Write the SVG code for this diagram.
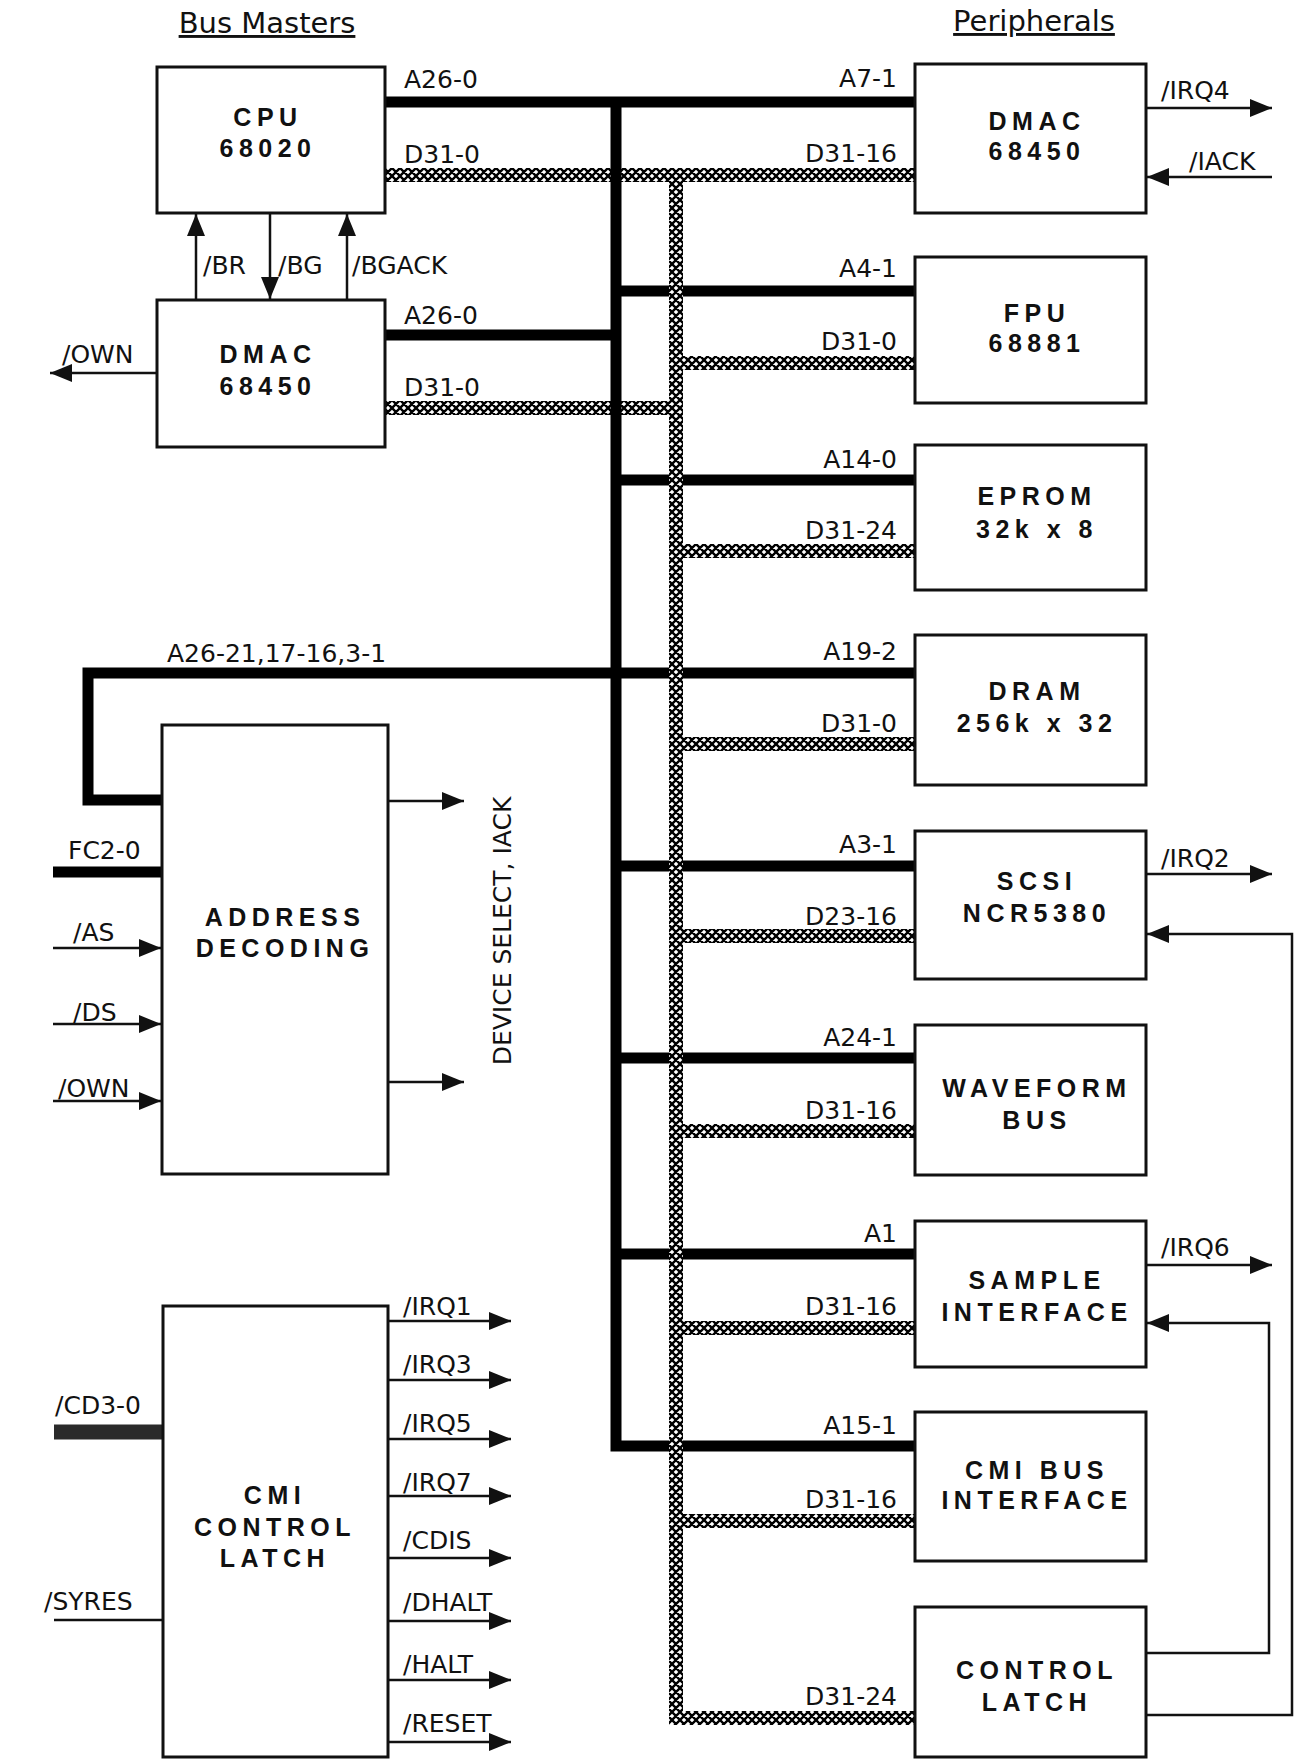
<svg xmlns="http://www.w3.org/2000/svg" width="1296" height="1760" viewBox="0 0 1296 1760">
<style>
.box{fill:#fff;stroke:#111;stroke-width:3}
.bt{font-family:"Liberation Sans",Arial,sans-serif;font-weight:bold;font-size:25px;letter-spacing:5.5px;text-anchor:middle;fill:#111}
.lb{font-family:"DejaVu Sans","Liberation Sans",sans-serif;font-size:25px;fill:#111}
.r{text-anchor:end}
.ttl{font-family:"DejaVu Sans","Liberation Sans",sans-serif;font-size:29px;fill:#111;text-anchor:middle;text-decoration:underline}
.abus{fill:none;stroke:#000;stroke-width:11;stroke-linejoin:miter}
.dbus{fill:none;stroke:url(#hatch);stroke-width:14;stroke-linejoin:miter}
.sig{fill:none;stroke:#111;stroke-width:2.5}
.arr{marker-end:url(#ah)}
</style>
<defs>
<pattern id="hatch" patternUnits="userSpaceOnUse" width="8" height="8">
<rect width="8" height="8" fill="#fff"/>
<path d="M0,0 L8,8 M8,0 L0,8 M-1,7 L1,9 M7,-1 L9,1 M-1,1 L1,-1 M7,9 L9,7" stroke="#000" stroke-width="2.4"/>
</pattern>
<marker id="ah" viewBox="0 0 22 18" refX="22" refY="9" markerWidth="22" markerHeight="18" orient="auto" markerUnits="userSpaceOnUse">
<path d="M0,0 L22,9 L0,18 z" fill="#111"/>
</marker>
</defs>
<rect width="1296" height="1760" fill="#fff"/>

<text class="ttl" x="267" y="33">Bus Masters</text>
<text class="ttl" x="1034" y="31">Peripherals</text>

<g id="connectors">
<path class="dbus" d="M385,175 H676"/>
<path class="dbus" d="M385,408 H676"/>
<path class="abus" d="M385,102 H915"/>
<path class="abus" d="M616,97 V1446 H915"/>
<path class="abus" d="M385,335 H616"/>
<path class="abus" d="M616,291 H915"/>
<path class="abus" d="M616,480 H915"/>
<path class="abus" d="M915,673 H88 V800 H163"/>
<path class="abus" d="M616,866 H915"/>
<path class="abus" d="M616,1058 H915"/>
<path class="abus" d="M616,1254 H915"/>
<path class="abus" d="M53,872 H163"/>
<path d="M54,1432 H163" stroke="#2a2a2a" stroke-width="15" fill="none"/>
<path class="dbus" d="M676,175 H915"/>
<path class="dbus" d="M676,175 V1718 H915"/>
<path class="dbus" d="M676,363 H915"/>
<path class="dbus" d="M676,551 H915"/>
<path class="dbus" d="M676,744 H915"/>
<path class="dbus" d="M676,936 H915"/>
<path class="dbus" d="M676,1131 H915"/>
<path class="dbus" d="M676,1328 H915"/>
<path class="dbus" d="M676,1521 H915"/>
<path class="sig arr" d="M196,300 V214"/>
<path class="sig arr" d="M270,214 V299"/>
<path class="sig arr" d="M347,300 V214"/>
<path class="sig arr" d="M157,373 H50"/>
<path class="sig arr" d="M1146,108 H1272"/>
<path class="sig arr" d="M1272,177 H1147"/>
<path class="sig arr" d="M1146,874 H1272"/>
<path class="sig arr" d="M1146,1715 H1292 V934 H1147"/>
<path class="sig arr" d="M1146,1653 H1269 V1323 H1147"/>
<path class="sig arr" d="M1146,1265 H1272"/>
<path class="sig arr" d="M388,801 H464"/>
<path class="sig arr" d="M388,1082 H464"/>
<path class="sig arr" d="M53,948 H161"/>
<path class="sig arr" d="M53,1024 H161"/>
<path class="sig arr" d="M53,1101 H161"/>
<path class="sig" d="M54,1620 H163"/>
<path class="sig arr" d="M388,1321 H511"/>
<path class="sig arr" d="M388,1380 H511"/>
<path class="sig arr" d="M388,1439 H511"/>
<path class="sig arr" d="M388,1496 H511"/>
<path class="sig arr" d="M388,1558 H511"/>
<path class="sig arr" d="M388,1621 H511"/>
<path class="sig arr" d="M388,1680 H511"/>
<path class="sig arr" d="M388,1742 H511"/>
</g>

<g id="labels">
<text class="lb" x="404" y="88">A26-0</text>
<text class="lb" x="404" y="163">D31-0</text>
<text class="lb" x="203" y="274">/BR</text>
<text class="lb" x="278" y="274">/BG</text>
<text class="lb" x="352" y="274">/BGACK</text>
<text class="lb" x="404" y="324">A26-0</text>
<text class="lb" x="404" y="396">D31-0</text>
<text class="lb" x="62" y="363">/OWN</text>
<text class="lb r" x="897" y="87">A7-1</text>
<text class="lb r" x="897" y="162">D31-16</text>
<text class="lb" x="1161" y="99">/IRQ4</text>
<text class="lb" x="1189" y="170">/IACK</text>
<text class="lb r" x="897" y="277">A4-1</text>
<text class="lb r" x="897" y="350">D31-0</text>
<text class="lb r" x="897" y="468">A14-0</text>
<text class="lb r" x="897" y="539">D31-24</text>
<text class="lb" x="167" y="662">A26-21,17-16,3-1</text>
<text class="lb r" x="897" y="660">A19-2</text>
<text class="lb r" x="897" y="732">D31-0</text>
<text class="lb r" x="897" y="853">A3-1</text>
<text class="lb r" x="897" y="925">D23-16</text>
<text class="lb" x="1161" y="867">/IRQ2</text>
<text class="lb r" x="897" y="1046">A24-1</text>
<text class="lb r" x="897" y="1119">D31-16</text>
<text class="lb r" x="897" y="1242">A1</text>
<text class="lb r" x="897" y="1315">D31-16</text>
<text class="lb" x="1161" y="1256">/IRQ6</text>
<text class="lb r" x="897" y="1434">A15-1</text>
<text class="lb r" x="897" y="1508">D31-16</text>
<text class="lb r" x="897" y="1705">D31-24</text>
<text class="lb" x="68" y="859">FC2-0</text>
<text class="lb" x="73" y="941">/AS</text>
<text class="lb" x="73" y="1021">/DS</text>
<text class="lb" x="58" y="1097">/OWN</text>
<text class="lb" transform="translate(511,931) rotate(-90)" text-anchor="middle">DEVICE SELECT, IACK</text>
<text class="lb" x="55" y="1414">/CD3-0</text>
<text class="lb" x="44" y="1610">/SYRES</text>
<text class="lb" x="403" y="1315">/IRQ1</text>
<text class="lb" x="403" y="1373">/IRQ3</text>
<text class="lb" x="403" y="1432">/IRQ5</text>
<text class="lb" x="403" y="1491">/IRQ7</text>
<text class="lb" x="403" y="1549">/CDIS</text>
<text class="lb" x="403" y="1611">/DHALT</text>
<text class="lb" x="403" y="1673">/HALT</text>
<text class="lb" x="403" y="1732">/RESET</text>
</g>

<g id="cpu"><rect class="box" x="157" y="67" width="228" height="146"/><text class="bt" x="268" y="126">CPU</text><text class="bt" x="268" y="157">68020</text></g>
<g id="dmac-master"><rect class="box" x="157" y="300" width="228" height="147"/><text class="bt" x="268" y="363">DMAC</text><text class="bt" x="268" y="395">68450</text></g>
<g id="address-decoding"><rect class="box" x="162" y="725" width="226" height="449"/><text class="bt" x="285" y="926">ADDRESS</text><text class="bt" x="285" y="957">DECODING</text></g>
<g id="cmi-control-latch"><rect class="box" x="163" y="1306" width="225" height="451"/><text class="bt" x="275" y="1504">CMI</text><text class="bt" x="275" y="1536">CONTROL</text><text class="bt" x="275" y="1567">LATCH</text></g>
<g id="dmac-periph"><rect class="box" x="915" y="64" width="231" height="149"/><text class="bt" x="1037" y="130">DMAC</text><text class="bt" x="1037" y="160">68450</text></g>
<g id="fpu"><rect class="box" x="915" y="257" width="231" height="146"/><text class="bt" x="1037" y="322">FPU</text><text class="bt" x="1037" y="352">68881</text></g>
<g id="eprom"><rect class="box" x="915" y="445" width="231" height="145"/><text class="bt" x="1037" y="505">EPROM</text><text class="bt" x="1037" y="538">32k x 8</text></g>
<g id="dram"><rect class="box" x="915" y="635" width="231" height="150"/><text class="bt" x="1037" y="700">DRAM</text><text class="bt" x="1037" y="732">256k x 32</text></g>
<g id="scsi"><rect class="box" x="915" y="831" width="231" height="148"/><text class="bt" x="1037" y="890">SCSI</text><text class="bt" x="1037" y="922">NCR5380</text></g>
<g id="waveform-bus"><rect class="box" x="915" y="1025" width="231" height="150"/><text class="bt" x="1037" y="1097">WAVEFORM</text><text class="bt" x="1037" y="1129">BUS</text></g>
<g id="sample-interface"><rect class="box" x="915" y="1221" width="231" height="146"/><text class="bt" x="1037" y="1289">SAMPLE</text><text class="bt" x="1037" y="1321">INTERFACE</text></g>
<g id="cmi-bus-interface"><rect class="box" x="915" y="1412" width="231" height="149"/><text class="bt" x="1037" y="1479">CMI BUS</text><text class="bt" x="1037" y="1509">INTERFACE</text></g>
<g id="control-latch"><rect class="box" x="915" y="1607" width="231" height="150"/><text class="bt" x="1037" y="1679">CONTROL</text><text class="bt" x="1037" y="1711">LATCH</text></g>
</svg>
